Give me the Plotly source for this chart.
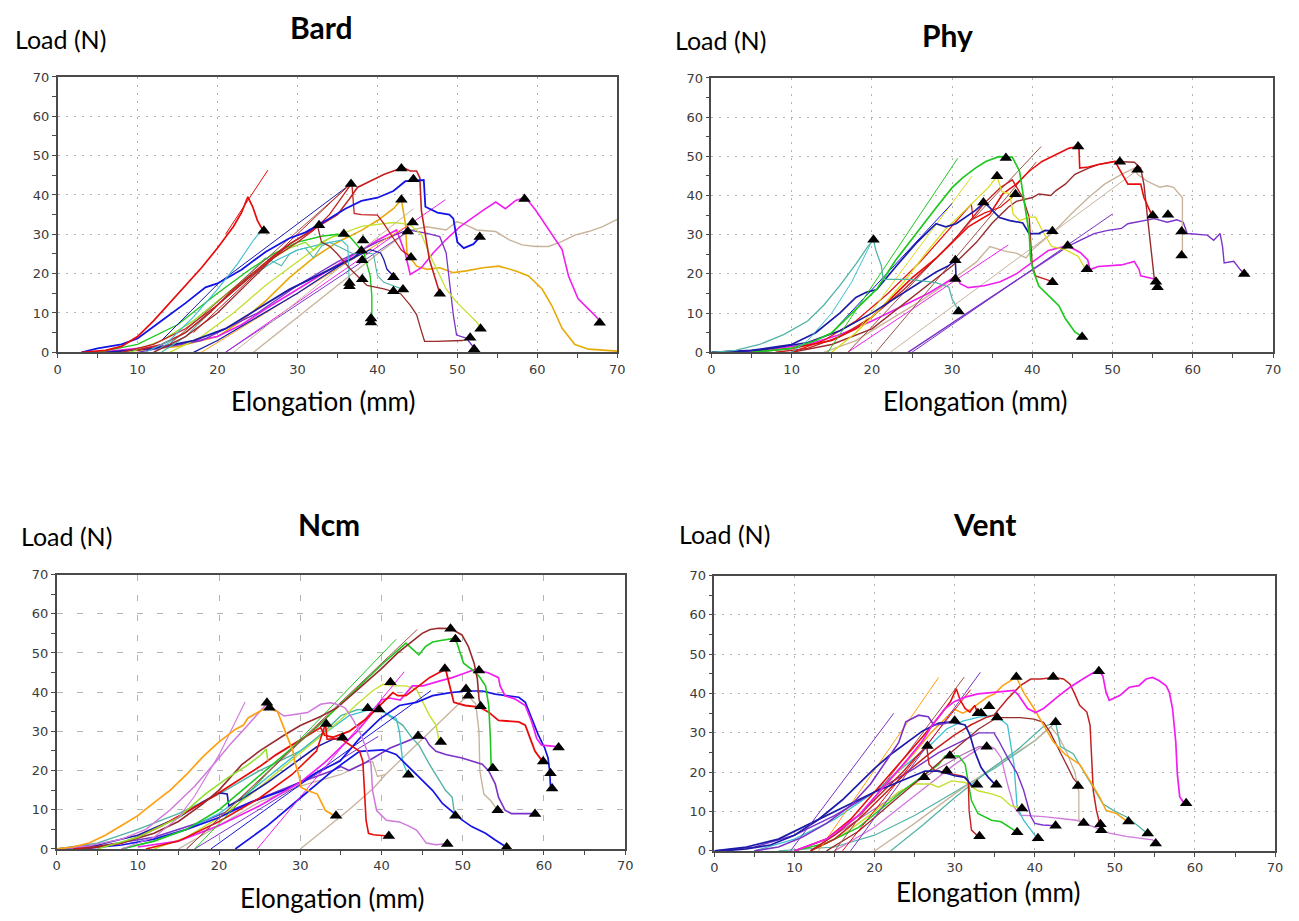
import plotly.graph_objects as go

# ------------------------------------------------------------------
# DATA  (elongation mm, load N)
# ------------------------------------------------------------------
AXIS_TICKS = [0, 10, 20, 30, 40, 50, 60, 70]
PANEL_TITLES = ["Bard", "Phy", "Ncm", "Vent"]
X_LABEL = "Elongation (mm)"
Y_LABEL = "Load (N)"

# ---------------- Bard ----------------
bard_red_steep = [(3,0),(6,0.5),(8,1.5),(10,4),(12,8),(14,12.5),(16,17),(18,21.5),(20,26.5),(22,32),(23,35.5),(23.8,39.5),(24.4,37),(25,33.5),(25.4,32),(25.8,31)]
bard_red_line = [(21,30),(26.3,46.3)]
bard_cyan_a = [(11,0),(14,3),(17,9),(20,16),(22.5,22.5),(24.5,28.5),(25.5,31)]
bard_teal_b = [(13,0),(16,4),(19,10),(21,14),(23,18),(25,22),(26,24),(27,23),(28,22),(29,25),(30,26),(31,26.5),(32,24),(33,27),(34,28),(35,27),(36,26),(37,25),(38,25.5),(39.5,25),(40,19.5),(40.8,17.8),(42,16.9),(43.2,16)]
bard_navy_line = [(13,3),(20.2,17.7),(36.8,43)]
bard_brown_line = [(14,2),(36.8,43)]
bard_dred_line = [(17,5),(36.7,43)]
bard_blue_main = [(3,0),(5,1),(8,2),(10,3.5),(13,8),(16,12.5),(18.5,16.5),(20,17.5),(23,21),(26,25.5),(29,29),(31,30.5),(34,34),(36,36.5),(38,38.5),(40,39.3),(42,41),(43.5,43.5),(45.8,43.8),(46,37),(47.5,35.5),(49,35),(49.5,34),(50,28),(50.8,26.5),(52,27.5),(52.8,29.3)]
bard_red_peak = [(10,0.5),(13,2),(16,5),(19,10),(22,16),(25,21),(27,24.5),(29,27.5),(31,30),(33,32.5),(35,35),(36.5,39),(37.5,41.9),(39.2,43.6),(40.8,45.2),(42.5,46.5),(43.3,46.9),(44.1,46.1),(44.9,46.1),(45.3,44.4),(45.5,36.1),(46.5,23.6),(47.6,16.1),(47.8,15)]
bard_red_drop = [(8,0),(12,2),(16,6),(20,12),(24,19),(27,24),(30,28),(32,31),(34,35),(36.8,43),(37.1,35.3),(38,35),(40,34.9),(40.8,32.7),(42,29),(43,26),(44.2,24.1)]
bard_brown = [(12,0),(16,4),(20,10),(24,18),(27,24),(29,27.5),(31,30),(32.5,32.3),(33,28),(34,27),(35,25),(36.7,21),(38.7,17),(40.8,16.1),(42.9,14.9),(44.1,12),(44.9,9.6),(45.5,5.4),(45.9,2.8),(47.3,2.8),(50.6,3),(51.6,3.6)]
bard_magenta = [(5,0),(10,1),(15,2),(20,4),(23,7),(26,11),(30,16),(34,21),(38,26),(40,28.5),(42.4,31.1),(43.5,25),(44.1,19.8),(45.5,21.5),(47,25.3),(48.5,28.5),(50.3,31.9),(52,34.5),(53.2,36.1),(54.8,38.2),(56,36.5),(57.3,38.6),(58.5,39.4),(59.8,36.1),(61.4,31.1),(63.1,26.1),(63.9,19.4),(65.1,13.6),(67.2,9.4),(67.9,7.75)]
bard_magenta_line = [(21,0),(48.5,38.8)]
bard_tan = [(24.5,0),(30,9),(35,17),(40,25),(44,31),(46.2,31.9),(48.6,31.1),(49.9,33.2),(50.7,32.75),(52.4,31.1),(54.8,30.7),(56.5,28.6),(58.1,27.3),(59.8,26.9),(61.4,26.9),(63.1,28.2),(64.7,29.8),(66.4,30.7),(68.1,31.9),(70,33.8)]
bard_gold = [(5,0),(10,0.5),(15,1.5),(20,4),(23,8),(26,13),(29,19),(32,24),(35,28),(38,31),(40,33.5),(42,36.5),(43,38.8),(43.5,32.75),(43.7,25.25),(44.9,21.9),(46.2,21.1),(47.8,21.5),(49.5,20.25),(51.1,20.7),(53.2,21.5),(55.2,21.9),(57.3,20.7),(58.9,19.4),(60.6,16.1),(61.8,11.9),(63.1,6.1),(64.7,2),(66.4,0.8),(70,0.3)]
bard_purple = [(10,0),(18,3),(25,10),(30,17),(35,23),(40,28),(43,30.5),(43.9,31.1),(46.2,30.25),(47.8,29.4),(48.6,25.25),(49,17.75),(49.5,9.4),(49.9,4.4),(51.1,3.6),(52.1,1.1)]
bard_ygreen = [(14,0),(18,4),(22,10),(26,17),(30,23),(34,29),(38,32),(42,33),(44,32.5),(45.5,30),(46.5,25),(47.4,21.1),(48.6,16.1),(49.9,12.75),(51.1,10.25),(52.4,7.75),(53,6)]
bard_green = [(5,0),(10,2),(15,7),(20,15),(24,21),(27,25),(30,28),(33,29.5),(35,30),(36.5,29.5),(38.3,25.25),(39.1,19.4),(39.3,14.4),(39.3,7.75)]
bard_lime = [(9,0),(13,3),(17,8),(20,13),(23,18),(25,21),(27,24),(29,26.5),(31,28),(32,26),(33,28),(34.5,29.5),(35.8,30.1)]
bard_navy = [(17,0),(20,3),(25,9),(30,15),(33,19),(36,23),(38,25),(39.1,26.1),(40.4,25.25),(40.8,23.6),(41.2,21.1),(42,19.4)]
bard_blue_low = [(6,0),(12,1),(17,3),(21,6),(25,11),(29,16),(32,19),(35,22),(37,24),(38.1,25.8)]
bard_teal_drop = [(12,0),(16,5),(20,12),(24,19),(27,23),(30,26),(33,27.5),(35.5,28.5),(36.3,27),(36.5,16.8)]
bard_orange_line = [(18,0),(44.4,33)]
bard_violet_line = [(21,0),(43.8,30.7)]
bard_tan_line = [(22,0),(44.5,36.5)]
bard_markers = [(25.8,30.9),(36.7,42.8),(43.0,46.7),(44.5,44.0),(32.7,32.3),(35.8,30.1),(43.0,38.8),(44.4,33.0),(43.8,30.7),(38.2,28.4),(38.0,25.8),(38.1,23.4),(44.2,24.1),(36.5,16.8),(36.5,17.6),(38.1,18.6),(42.0,19.1),(42.0,15.5),(43.2,16.0),(39.2,8.6),(39.2,7.6),(47.8,14.9),(52.8,29.3),(52.9,6.0),(51.6,3.7),(52.1,0.8),(58.4,39.0),(67.8,7.5)]

# ---------------- Phy ----------------
phy_teal = [(0,0),(3,0.5),(6,2),(9,4.5),(12,8),(14,12),(16,17),(18,22.5),(19.5,27),(20.2,28.7),(20.5,26),(21.2,22),(21.4,18.6),(24.7,18.6),(28,17.8),(29.6,16.6),(30,13.6),(30.9,10.3)]
phy_teal_line = [(10,0),(12,3),(15,10),(17.5,18),(19.8,27.5)]
phy_green = [(5,0),(10,1),(13,3),(15,5),(17,9),(19,13),(20.6,16.1),(23,23.6),(25.5,30.3),(28,36.9),(30,42),(31.3,44.5),(32.9,47),(34.2,48.7),(35.8,49.9),(37.5,49.8),(38.4,46.2),(39.2,35.3),(39.6,30.3),(39.8,23.6),(40.2,20.3),(40.8,16.9),(42,14.4),(43.3,11.9),(44.1,8.6),(45.3,5.2),(46.2,4)]
phy_green_line = [(14.5,0),(30.7,49.5)]
phy_navy = [(0,0),(5,0.5),(10,2),(13,5),(16,10),(18,14),(19.3,15.3),(20.6,16),(23,21.9),(25.5,27.8),(28,32.8),(29.2,32),(30.5,32.8),(32.9,36.2),(34,38.2),(34.7,36.9),(35.9,34.4),(37.2,33.6),(38.8,33),(39.6,30.3),(40.8,30.3),(41.6,31.1),(42.7,30.9)]
phy_navy_line = [(15,5),(30,38)]
phy_blue_low = [(0,0),(6,0.5),(12,2.5),(16,5.5),(20,10),(23,14),(26,18),(28,20.5),(29.5,22),(30.4,23.5),(30.5,18.7)]
phy_yellow = [(15,0),(18,5),(21,11),(24,18),(27,26),(29,31),(31,35),(33,39),(34.5,42),(35.6,44.9),(36.2,41),(37.2,40.4),(37.6,35.3),(38.4,33.6),(39.6,34.5),(40.4,34.5),(41.2,31.2),(42.4,27),(44.1,26.2),(45.7,24.5),(46.5,21.6)]
phy_yellow_line = [(18,5),(32.5,45)]
phy_red = [(5,0),(10,1),(15,3),(18,6),(20,9),(22,13),(25,19),(28,24),(30,28),(32,32),(34.7,35.3),(36.3,40.4),(38,42.9),(39.6,46.2),(41.2,48.7),(42.9,50.4),(44.6,52.1),(45.8,52.5),(45.9,47),(47,47.3),(48.2,47.9),(50.3,48.7),(51.2,45.4),(51.9,42.9),(53.5,42.9),(53.9,39.5),(54.8,35.4)]
phy_red2 = [(8,0),(12,1),(16,4),(20,9),(24,16),(27,22),(30,28),(32,33),(34,38),(36,42),(37.5,44),(38.8,39.5),(39.6,34.5),(39.8,28),(40,22),(40.4,19.5),(41.6,18.7),(42.7,17.9)]
phy_red3 = [(10,0),(14,3),(18,8),(22,15),(26,23),(29,30),(31,34.5),(32.4,37.8),(32.6,34),(34,35.5),(36,37),(37.9,40.3)]
phy_maroon = [(10,0),(15,2),(20,6),(25,14),(30,22),(33,28),(35,33),(37,37),(38,38.5),(40,39.5),(40.8,40.4),(42.3,40),(42.9,41.2),(44.1,42.9),(45.3,45.4),(47,47),(48.2,47.9),(50.3,48.7),(52.7,48.5),(53.5,47),(53.9,42.9),(54.3,35.4),(54.8,26.2),(55.2,18.7),(55.6,16.6)]
phy_brown_line1 = [(17,0),(41.1,52.5)]
phy_brown_line2 = [(20.5,0),(40.5,48.6)]
phy_tan = [(14,0),(18,3),(22,8),(26,13),(30,18.5),(33,23),(34.7,27),(36.8,25.7),(38,25.3),(39.2,24.1),(40,26.2),(42.9,31.2),(44.9,35.4),(47,39.5),(49,42.9),(51.1,45.4),(52.7,47),(53.1,45.4),(54.3,43.7),(55.9,42.1),(56.8,42.5),(57.6,42.1),(58.3,40.4),(58.7,39.5),(58.7,30.8),(58.7,25)]
phy_tan_line = [(22.3,0),(53.1,46.5)]
phy_violet = [(24.5,0),(30,7.5),(35.8,15.3),(40,21),(44.4,27),(46,28.6),(47.7,30.3),(49.4,31.1),(51.1,31.6),(51.9,32.8),(53.5,33.5),(55.2,34.1),(56.8,33.2),(58,33.8),(58.8,33.2),(59.3,30.3),(61.8,29.9),(62.6,28.6),(63.4,30.3),(63.7,27),(63.9,22.8),(65.1,23.2),(65.9,21.1),(66.5,19.9)]
phy_violet_line = [(25,0),(50,35.3)]
phy_magenta = [(3,0),(8,1),(12,2),(16,4.5),(20,8),(24,12),(27,15),(29,17.5),(30.5,19.5),(31,17.5),(32,16.5),(34,17),(36,18),(38,20),(40,23),(42,26),(44.4,27.2),(44.9,26.6),(46,25.4),(46.9,23.6),(47.2,21.1),(48.2,21.9),(51.1,22.3),(52.7,23.2),(53.3,21.1),(53.5,19.5),(55.2,18.7)]
phy_magenta_line = [(17,0),(37,27.4)]
phy_markers = [(20.2,28.7),(36.7,49.6),(35.6,44.9),(33.9,38.2),(37.9,40.3),(30.4,23.5),(30.4,18.7),(30.8,10.4),(45.7,52.5),(50.9,48.6),(53.1,46.6),(42.5,30.9),(42.5,17.9),(44.4,27.2),(46.8,21.2),(46.2,3.9),(55.0,34.9),(56.9,35.1),(58.6,30.8),(58.6,24.7),(55.4,18.0),(55.6,16.6),(66.4,20.0)]

# ---------------- Ncm ----------------
ncm_orange = [(0,0),(2,0.5),(4,1.5),(6,3.5),(8,6),(10,8.5),(12,11.8),(14,15),(16,19),(18,23.5),(20,27.3),(22,30.5),(23,31.6),(23.6,33.5),(25.2,35.3),(26,36.1),(27.2,35),(28,30.7),(28.7,27.4),(29.1,24.9),(29.3,22.4),(29.9,18.2),(30.1,15.7),(30.9,14.9),(32.1,14),(32.5,12.4),(33.1,9.8),(34.1,8.6)]
ncm_orchid = [(0,0),(4,0.8),(8,2.5),(11,5),(14,10),(17,16),(19.5,22),(21.5,27),(23.5,31.5),(25,35),(26,37.3),(26.8,35.6),(28,33.9),(29.3,34.3),(30.9,34.8),(32.5,36.9),(33.7,37.3),(34.4,37),(35.5,36),(36.5,33),(37.5,29),(38.1,25.7),(38.7,21.6),(38.9,14.9),(39.4,9.8),(40.6,7.3),(42.2,6.9),(43.5,5.7),(44.3,4.8),(44.9,3.2),(45.5,1.5),(46.7,1.1),(48,1.3)]
ncm_orchid_line = [(8,0),(12,3),(15,8),(17,13.5),(20,24),(23.2,37.5)]
ncm_lime = [(5,0),(10,3),(15,8),(18.3,14),(21.1,18.2),(23.6,21.5),(25.2,24.1),(25.8,25.5),(26,22.5)]
ncm_brown_line1 = [(16,0),(33.4,33.9)]
ncm_brown_line2 = [(16,0),(44.4,56)]
ncm_maroon = [(3,0),(8,1.5),(12,4),(15,7),(18,11.5),(20,15),(22.8,21.5),(25,25),(28,29),(30,31.5),(32.5,33.8),(34.5,36),(37,40.5),(40,46),(42,50),(44,53.5),(45,55),(46,56),(47,56.3),(48.5,56.2),(49.9,54.6),(50.7,51.6),(51.4,47.4),(51.8,43.3),(52,38.3),(52.2,36.6)]
ncm_tan = [(30,0),(33,5),(36,10),(39,15.5),(40.5,19),(42,22),(44,26),(46,30),(48,34),(50,38),(50.7,39),(51.6,37),(52,30),(52.1,20),(52.6,14),(53.4,12.4),(54.3,9.9)]
ncm_tan2 = [(15,0),(20,6),(25,12),(30,16),(35,19),(38,22),(38.9,22.3),(39.5,18.5),(40.5,19)]
ncm_green = [(8,0),(12,2),(16,5),(20,10),(24,17),(28,24),(32,31),(35,37),(38,43),(40,47),(43,52.5),(44.6,49.5),(45.4,51.6),(46.3,52.8),(47.1,53.1),(48.9,53.7),(49.3,52.5),(49.7,50),(50.1,47.4),(51.1,45.8),(52,44.1),(52.8,41.6),(53.2,36.6),(53.4,28.3),(53.5,20.8)]
ncm_green_line = [(17,0),(41.8,53.5)]
ncm_red = [(2,0),(5,0.5),(8,1.5),(10,3),(13,6),(16,9.5),(19,13),(22,17),(25,21),(27,24),(29,26.5),(31,29),(32.5,31),(33,29),(34,28.5),(36,30),(38,33),(40,37),(41.4,39.9),(42,39.1),(43,39.1),(44.6,41.6),(45.9,43.7),(47.1,45),(47.9,45.8),(48.3,42.4),(48.9,37.4),(50.3,36.6),(52,36.2),(53.2,34.9),(54.4,32.8),(56.9,32.4),(57.7,31.6),(58.3,28.2),(58.9,24.9),(59.8,22.4)]
ncm_red2 = [(11,0),(15,2),(20,7),(25,13),(29,19),(32,25),(33.1,31.9),(33.3,28),(34.9,28.2),(36.1,26.5),(37.3,24.9),(37.7,22.4),(37.9,14.9),(38.1,7.3),(38.4,4),(39,3.6),(40.8,3.3)]
ncm_magenta = [(10,0.5),(15,2),(20,6),(25,11),(30,17),(33,22),(35,26),(37,30),(39,35),(40,38),(41,38.5),(42.3,38),(43.8,41.6),(45.1,41.6),(47.1,42.8),(48.7,43.7),(50.3,44.9),(51.5,45.8),(53.2,44.9),(54.4,43.7),(54.6,41.6),(55.2,39.1),(56.4,38.3),(57.7,36.6),(58.5,32.4),(59.1,28.2),(59.7,26.5),(61.6,26.1)]
ncm_magenta_line = [(24.7,0),(42.8,45.2)]
ncm_blue1 = [(22,0),(26,6),(30,13),(34,20),(37.3,24.9),(40.2,25.3),(41.8,24.1),(43,21.6),(44.6,18.2),(46.3,14.9),(47.5,11.6),(48.7,9.5),(49.9,7.4),(51.1,5.7),(52.8,4),(54,2.3),(55.2,0.7)]
ncm_blue2 = [(3,0),(8,1),(12,2.5),(16,5),(20,8),(24,12),(28,15),(30,17),(32,19.5),(34.9,22.4),(37.3,28.2),(39.8,33.2),(42.2,36.6),(44.3,37.4),(46.3,39.1),(48.3,39.8),(50.3,40.3),(52.4,40.3),(54,39.5),(56.9,38.7),(57.7,37.4),(58.5,33.2),(59.3,29.1),(60.1,25.7),(60.5,23.2),(60.7,19.9),(60.8,16.1)]
ncm_blue3 = [(0,0),(5,1),(10,3.5),(15,8),(18,12),(20,14.3),(21,14),(21.2,11),(23,13),(26,17),(28,20),(30,23),(32,26),(33,27),(34,28),(35.2,28.4)]
ncm_blue_line = [(19,0),(46.1,40.4)]
ncm_violet = [(0,0),(6,1),(12,3),(18,7),(24,12),(30,17),(34,20),(35,21),(36,20),(38,22),(41,25.7),(43,27.4),(44.6,28.7),(45.4,28.2),(45.9,26.5),(46.7,24.9),(47.9,24.1),(49.9,23.2),(51.1,22.4),(52.4,21.6),(53.2,19.9),(54,16.6),(54.4,13.2),(55.2,9.9),(56,9),(57.7,9),(58.9,9)]
ncm_violet_line = [(17,0),(39.6,28.7)]
ncm_cyan = [(8,0),(12,2),(16,5),(20,9),(24,15),(27,20),(30,25),(32,28),(34,31),(36,34),(39,35.8),(40.2,35),(41,34.1),(41.8,33.3),(42.2,30),(42.4,25.7),(42.6,22.4),(43.2,19.1)]
ncm_teal = [(0,0),(5,1.5),(10,5),(15,9),(20,14),(25,20),(28,23),(30,25),(33,30),(35,34),(37,35.5),(39.8,35.8),(41.4,33.3),(42.6,31.6),(43.8,28.2),(44.6,26.5),(45.9,21.6),(47.1,17.4),(47.9,14.9),(48.7,13.2),(48.9,9.9),(49,8.7)]
ncm_ygreen = [(12,0),(16,3),(20,8),(24,14),(28,21),(32,28),(35,33),(37,37),(39,40.5),(40.2,42),(41.4,41.6),(43,41.6),(44.3,40.8),(45.1,37.4),(45.9,34.1),(46.7,31.6),(47.1,27.4)]
ncm_markers = [(25.9,37.3),(26.2,36.0),(34.4,8.5),(33.2,31.9),(35.2,28.4),(38.3,35.9),(39.7,35.6),(41.1,42.5),(43.3,18.9),(40.9,3.3),(44.5,28.8),(47.3,27.3),(48.5,56.2),(49.1,53.5),(47.8,46.0),(52.0,45.5),(50.4,40.8),(50.7,39.1),(52.2,36.4),(53.7,20.6),(49.1,8.5),(54.3,9.9),(48.1,1.25),(55.4,0.4),(58.9,8.9),(59.9,22.3),(60.8,19.3),(61.0,15.4),(61.8,25.9)]

# ---------------- Vent ----------------
vent_purple_line = [(9.5,0),(22.4,35)]
vent_violet = [(5,0),(8,1),(11,3.5),(14,7),(17,11.5),(19.5,17),(21.5,23),(23,27.5),(23.9,32.8),(25.5,34.5),(26.7,34.1),(27.4,32),(28.8,32.4),(29.6,32.8),(30,33.1)]
vent_navy = [(1,0),(4,0.5),(7,1.5),(10,4),(13,8),(16,13),(18,17),(20,21),(22,24.5),(24,27.5),(26,30.5),(28,32.5),(29.6,32.8),(31.3,32),(31.9,29.5),(32.5,25.3),(33.3,21.2),(34.2,18.7),(35,17)]
vent_navy2 = [(0,0),(4,1),(8,3),(12,7),(16,11),(20,15),(23,17.5),(26.3,20.3),(28,20.3),(30,19.1),(31.3,18.7),(32.1,16.6),(32.7,16.6)]
vent_crimson = [(12,0),(15,4),(18,9),(21,15),(23.5,20),(25,23.5),(26.5,26.7),(26.8,22),(27.5,20.5),(29,19.8),(31,19),(31.7,17.8),(31.8,10.3),(32.1,5.3),(32.9,3.7)]
vent_red = [(10,0),(14,3),(17,8),(20,15),(23,22),(26,29),(28,34),(29.5,38),(30.2,41.2),(30.7,38.3),(31.3,36.2),(31.9,35.3),(32.5,37),(32.9,34.9)]
vent_orange_line = [(13,0),(28,44.1)]
vent_orange = [(10,0),(14,3),(18,9),(22,18),(25,25),(27,30),(28,32),(29,34),(30,36),(31,35),(32,36),(33,37.5),(34,39),(35,40),(36,42),(37.7,44.2),(38.6,40.3),(39.9,36.2),(41.1,32),(42.3,27.8),(43.8,24.5),(45.6,22),(46.9,17.8),(48.1,13.7),(48.9,10.3),(50.2,9.5),(51.6,7.4)]
vent_teal = [(22,0),(26,6.5),(30,13.5),(34,20),(38,26),(41,31.5),(42.6,32.7),(43.2,26.5),(44.8,24.7),(45.6,22),(47.3,16.2),(48.5,12),(49.8,10.3),(51.4,8.7),(53,6.2),(54.1,4.3)]
vent_maroon = [(12,0),(15,3),(18,8),(21,14),(24,20),(27,25),(30,29.5),(32,32),(34,34),(34.9,34.5),(36.6,38.7),(38.2,42),(39.5,43.7),(40.7,43.7),(42.4,44.1),(43.6,43.7),(44.4,42.4),(44.9,40.3),(45.6,37),(46.5,35.3),(46.9,32),(47.1,23.7),(47.3,15.3),(47.7,10.3),(48.1,7),(48.3,5.25)]
vent_magenta = [(10,0),(14,3),(18,9),(21,16),(24,23),(26,28),(27.2,32),(28.8,36.2),(30,38),(31.3,39.1),(32.9,39.9),(34.9,40.3),(37.4,40.8),(38,39.5),(39.1,36.2),(40.1,35.2),(41.1,36.2),(42.8,39.1),(44.4,41.6),(46,43.7),(47.3,45.3),(48,45.8),(48.5,44.5),(48.9,40.3),(49.3,38.3),(50.6,39.5),(51.8,41.6),(53,42),(53.9,43.7),(54.7,44.1),(55.5,43.3),(56.4,42),(56.8,40.3),(57.2,36.2),(57.6,27.8),(57.8,19.5),(58.1,13.7),(58.7,12)]
vent_green = [(10,0),(14,2),(18,6),(21,11),(24,16),(26,19),(28,22),(28.8,24.1),(30.5,24.1),(31.3,22),(31.7,17.8),(32.1,12.8),(32.9,9.5),(34.6,7.8),(35.8,7.4),(36.5,6.5),(37.8,4.75)]
vent_ygreen = [(12,0),(16,4),(20,10),(23,15),(25,17),(27,17),(28,16.2),(29.6,17.8),(31.3,17.4),(32.9,15.3),(34.6,14.5),(35.8,13.7),(37,11.5),(38.4,10.8)]
vent_violet2 = [(0,0),(5,1),(10,4),(15,9),(20,15),(25,21),(28,25),(30,27),(32,29),(33,30),(34.9,30),(35.5,28),(36.6,23.8),(37.8,19.7),(38.6,15.5),(39.5,8.8),(40,7),(41,6.6),(42.6,6.4)]
vent_orchid = [(15,0),(20,6),(25,14),(30,22),(33,26),(34,27),(35,26),(35.8,23.7),(36.6,17),(37.4,11.2),(38.2,9.1),(41.1,8.7),(45.2,7.8),(47.3,6.2),(49.3,4.5),(51.4,3.7),(54.7,2.8),(55.1,1.9)]
vent_cyan = [(5,0),(10,3),(15,8),(20,15),(24,22),(27,27),(29,31),(31,33),(33,34),(35,34.5),(36,33),(36.6,32),(37.4,22),(37.8,11.2),(38.6,7.8),(40.3,3.2)]
vent_tan = [(20,0),(25,7),(30,14.5),(35,21.5),(40,28),(42,31.5),(43,29),(44,25),(45,20),(45.5,15),(45.5,8),(46.1,7.1)]
vent_seagreen = [(8,0),(15,1),(20,4),(25,9),(30,15),(35,21),(40,28),(42.6,32.7)]
vent_brownred = [(14,0),(18,5),(22,12),(26,19),(30,26),(33,31),(35.3,33.9),(36.6,33.9),(38.2,33.9),(39.9,33.5),(41.1,32.7),(41.9,30.2),(43.2,25.2),(44,21.8),(44.8,18.5),(45.4,17)]
vent_plum = [(12,0),(18,8),(24,16),(28,21),(31,24.5),(33,26.5),(34,26.5)]
vent_violet_line = [(17,0),(33.2,45.4)]
vent_brown_line = [(15,0),(31.2,44.2)]
vent_red_line = [(16,0),(32,41)]
vent_markers = [(26.6,26.7),(26.2,18.75),(29.4,24.2),(29.0,20.4),(30.0,33.1),(32.9,35.0),(33.3,35.0),(34.3,36.8),(35.3,33.9),(34.0,26.5),(32.8,16.8),(35.2,16.8),(33.1,3.75),(37.7,44.2),(42.3,44.2),(48.0,45.7),(42.6,32.7),(38.4,10.8),(37.8,4.75),(40.4,3.2),(42.6,6.4),(45.4,16.5),(46.1,7.1),(48.2,6.8),(48.3,5.25),(51.7,7.5),(54.1,4.4),(55.1,1.9),(58.9,12.1)]

# ------------------------------------------------------------------
# STYLES (colour, width) per curve
# ------------------------------------------------------------------
RED = "#e80c0c"; DRED = "#c42020"; MAROON = "#982c2c"; BROWN = "#a0524a"
NAVY = "#1c1ca8"; BLUE = "#1414e6"; GREEN = "#1ec81e"; LIME = "#8ee02a"
YGREEN = "#c4e030"; YELLOW = "#dada1e"; CYAN = "#3cc0d0"; TEAL = "#52b4a4"
MAGENTA = "#f01ef0"; VIOLET = "#7a32c8"; ORCHID = "#d078dc"; ORANGE = "#ffa010"
GOLD = "#e8aa08"; TAN = "#c8b49c"; PLUM = "#b070b0"

bard_curves = [
    (bard_tan, TAN, 1.4), (bard_gold, GOLD, 1.6), (bard_magenta_line, MAGENTA, 1.0),
    (bard_magenta, MAGENTA, 1.6), (bard_purple, VIOLET, 1.3), (bard_ygreen, YGREEN, 1.3),
    (bard_orange_line, ORANGE, 1.0), (bard_violet_line, VIOLET, 1.0), (bard_tan_line, TAN, 1.0),
    (bard_blue_low, NAVY, 1.8), (bard_navy, NAVY, 1.3), (bard_teal_b, TEAL, 1.1),
    (bard_teal_drop, CYAN, 1.1), (bard_lime, LIME, 1.3), (bard_green, GREEN, 1.4),
    (bard_brown, MAROON, 1.3), (bard_navy_line, NAVY, 1.0), (bard_brown_line, BROWN, 1.0),
    (bard_dred_line, DRED, 1.0), (bard_red_drop, DRED, 1.3), (bard_red_peak, DRED, 1.6),
    (bard_blue_main, BLUE, 1.8), (bard_cyan_a, CYAN, 1.1), (bard_red_line, RED, 1.0),
    (bard_red_steep, RED, 1.7),
]
phy_curves = [
    (phy_violet_line, VIOLET, 1.0), (phy_violet, VIOLET, 1.4), (phy_tan_line, TAN, 1.0),
    (phy_tan, TAN, 1.4), (phy_magenta_line, MAGENTA, 1.0), (phy_magenta, MAGENTA, 1.6),
    (phy_brown_line1, BROWN, 1.0), (phy_brown_line2, BROWN, 1.0), (phy_maroon, MAROON, 1.4),
    (phy_red3, RED, 1.2), (phy_red2, DRED, 1.4), (phy_red, RED, 1.6),
    (phy_yellow_line, YELLOW, 1.0), (phy_yellow, YELLOW, 1.3), (phy_blue_low, NAVY, 1.6),
    (phy_navy_line, BLUE, 1.0), (phy_navy, NAVY, 1.7), (phy_green_line, GREEN, 1.0),
    (phy_green, GREEN, 1.7), (phy_teal_line, CYAN, 1.0), (phy_teal, TEAL, 1.3),
]
ncm_curves = [
    (ncm_tan2, TAN, 1.3), (ncm_tan, TAN, 1.4), (ncm_violet_line, VIOLET, 1.0),
    (ncm_violet, VIOLET, 1.6), (ncm_teal, TEAL, 1.4), (ncm_cyan, CYAN, 1.4),
    (ncm_ygreen, YGREEN, 1.4), (ncm_blue_line, BLUE, 1.0), (ncm_blue3, NAVY, 1.6),
    (ncm_blue2, BLUE, 1.7), (ncm_blue1, BLUE, 1.7), (ncm_magenta_line, MAGENTA, 1.0),
    (ncm_magenta, MAGENTA, 1.7), (ncm_red2, RED, 1.6), (ncm_red, RED, 1.8),
    (ncm_green_line, GREEN, 1.0), (ncm_green, GREEN, 1.6), (ncm_brown_line1, BROWN, 1.0),
    (ncm_brown_line2, BROWN, 1.0), (ncm_maroon, MAROON, 1.6), (ncm_lime, LIME, 1.5),
    (ncm_orchid_line, ORCHID, 1.1), (ncm_orchid, ORCHID, 1.5), (ncm_orange, ORANGE, 1.7),
]
vent_curves = [
    (vent_seagreen, TEAL, 1.2), (vent_tan, TAN, 1.3), (vent_teal, TEAL, 1.3),
    (vent_orchid, ORCHID, 1.3), (vent_plum, PLUM, 1.2), (vent_cyan, CYAN, 1.3),
    (vent_violet2, VIOLET, 1.4), (vent_ygreen, YGREEN, 1.4), (vent_green, GREEN, 1.5),
    (vent_brownred, MAROON, 1.3), (vent_maroon, DRED, 1.5), (vent_orange, ORANGE, 1.5),
    (vent_orange_line, ORANGE, 1.0), (vent_violet_line, VIOLET, 1.0), (vent_brown_line, BROWN, 1.0),
    (vent_red_line, RED, 1.0), (vent_red, RED, 1.6), (vent_crimson, DRED, 1.4),
    (vent_navy2, NAVY, 1.7), (vent_navy, NAVY, 1.7), (vent_purple_line, VIOLET, 1.0),
    (vent_violet, VIOLET, 1.6), (vent_magenta, MAGENTA, 1.7),
]

# ------------------------------------------------------------------
# page geometry: figure sits inside the browser's default 8px body margin
# ------------------------------------------------------------------
OFF = 8
W, H = 1299 - 2 * OFF, 921 - 2 * OFF


def px_x(p):
    return (p - OFF) / W


def px_y(p):
    return 1 - (p - OFF) / H


panels = [
    dict(title=PANEL_TITLES[0], curves=bard_curves, markers=bard_markers,
         xd=[px_x(54), px_x(619)], yd=[px_y(351), px_y(71)], griddash="2px,6px",
         tpos=(320, 20), lpos=(9, 32), epos=(322, 400)),
    dict(title=PANEL_TITLES[1], curves=phy_curves, markers=phy_markers,
         xd=[px_x(714), px_x(1281)], yd=[px_y(351), px_y(72)], griddash="2px,6px",
         tpos=(952, 28), lpos=(675, 33), epos=(980, 400)),
    dict(title=PANEL_TITLES[2], curves=ncm_curves, markers=ncm_markers,
         xd=[px_x(53), px_x(627)], yd=[px_y(856), px_y(577)], griddash="6px,14px",
         tpos=(328, 526), lpos=(15, 538), epos=(331, 906)),
    dict(title=PANEL_TITLES[3], curves=vent_curves, markers=vent_markers,
         xd=[px_x(717), px_x(1283)], yd=[px_y(858), px_y(578)], griddash="2px,6px",
         tpos=(990, 526), lpos=(679, 536), epos=(993, 900)),
]

fig = go.Figure()
annotations = []
TEXT_FONT = "Lato, 'Open Sans', sans-serif"

for i, p in enumerate(panels, start=1):
    xa = "x" if i == 1 else f"x{i}"
    ya = "y" if i == 1 else f"y{i}"
    for pts, color, width in p["curves"]:
        fig.add_trace(go.Scatter(
            x=[q[0] for q in pts], y=[q[1] for q in pts], mode="lines",
            line=dict(color=color, width=width), xaxis=xa, yaxis=ya,
            showlegend=False, hoverinfo="skip"))
    fig.add_trace(go.Scatter(
        x=[q[0] for q in p["markers"]], y=[q[1] for q in p["markers"]], mode="markers",
        marker=dict(symbol="triangle-up", size=11, color="black"),
        xaxis=xa, yaxis=ya, showlegend=False, hoverinfo="skip"))

    axis_common = dict(
        range=[0, 70], tickvals=AXIS_TICKS, ticktext=[str(t) for t in AXIS_TICKS],
        showline=True, linecolor="#4a4a4a", linewidth=1.5, mirror=True,
        ticks="outside", ticklen=4, tickcolor="#4a4a4a", tickwidth=1,
        minor=dict(tickvals=[5, 15, 25, 35, 45, 55, 65], ticks="outside", ticklen=4,
                   tickcolor="#4a4a4a", showgrid=False),
        showgrid=True, gridcolor="#b4b4b4", gridwidth=1, griddash=p["griddash"],
        zeroline=False,
        tickfont=dict(family="DejaVu Sans, sans-serif", size=13, color="#3a3a3a"),
        fixedrange=True,
    )
    fig.update_layout(**{
        ("xaxis" if i == 1 else f"xaxis{i}"): dict(domain=p["xd"], anchor=ya, **axis_common),
        ("yaxis" if i == 1 else f"yaxis{i}"): dict(domain=p["yd"], anchor=xa, **axis_common),
    })

    tx, ty = p["tpos"]
    annotations.append(dict(text="<b>" + p["title"] + "</b>", x=px_x(tx), y=px_y(ty),
                            xref="paper", yref="paper", xanchor="center", yanchor="middle",
                            showarrow=False, font=dict(family=TEXT_FONT, size=30, color="black")))
    lx, ly = p["lpos"]
    annotations.append(dict(text=Y_LABEL, x=px_x(lx), y=px_y(ly), xref="paper", yref="paper",
                            xanchor="left", yanchor="middle", showarrow=False,
                            font=dict(family=TEXT_FONT, size=25, color="black")))
    ex, ey = p["epos"]
    annotations.append(dict(text=X_LABEL, x=px_x(ex), y=px_y(ey), xref="paper", yref="paper",
                            xanchor="center", yanchor="middle", showarrow=False,
                            font=dict(family=TEXT_FONT, size=26, color="black")))

fig.update_layout(
    width=W, height=H, margin=dict(l=0, r=0, t=0, b=0),
    paper_bgcolor="white", plot_bgcolor="white",
    annotations=annotations, showlegend=False,
)

fig.write_html("out.html", config={"displayModeBar": False})
